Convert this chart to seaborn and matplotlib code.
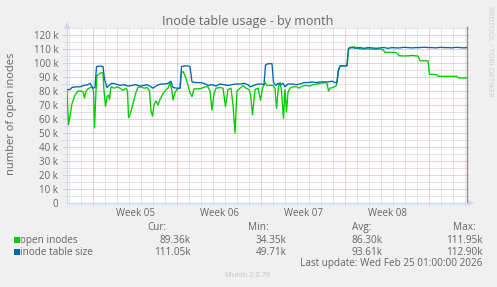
import matplotlib
matplotlib.use("Agg")
import matplotlib.pyplot as plt
import matplotlib.transforms as mtransforms
from matplotlib.patches import Rectangle
import pandas as pd
import seaborn as sns

# ---------------- data (hours since start of graph window, values in thousands) ----------------
hours_open = [0, 3, 6, 10, 16, 22, 28, 32, 35, 38, 44, 50, 53, 55, 58, 60, 64, 68, 72, 74, 77, 80, 83, 85,
              88, 94, 100, 106, 112, 118, 121, 123, 126, 130, 134, 138, 142, 148, 154, 160, 165, 168, 171,
              174, 178, 182, 186, 192, 198, 202, 206, 210, 212, 216, 220, 224, 226, 229, 232, 236, 242, 246,
              250, 254, 262, 270, 276, 282, 286, 290, 294, 298, 306, 312, 317, 322, 328, 332, 336, 340, 346,
              352, 358, 364, 367, 371, 376, 382, 387, 391, 396, 400, 406, 412, 416, 419, 423, 426, 429, 433,
              436, 439, 442, 446, 452, 460, 464, 470, 478, 486, 492, 500, 508, 516, 520, 523, 526, 532, 539,
              542, 546, 554, 560, 563, 566, 574, 580, 586, 596, 606, 616, 626, 632, 636, 646, 656, 660, 664,
              676, 686, 690, 694, 702, 706, 714, 722, 725, 732, 740, 742, 756, 766, 780, 783, 790, 800]
open_inodes = [80, 56, 62, 71, 77, 80, 80, 79.5, 75, 80, 82, 83, 80, 53.6, 80, 91, 92, 93, 93, 80, 69, 76,
               77, 74, 83, 82, 83, 82, 80.5, 82, 80, 61, 63, 68, 74, 79, 82.5, 83, 82, 82.5, 80, 66, 62,
               70, 73, 70, 74, 78, 81, 82, 86, 80, 73.6, 79, 81, 82, 82, 93, 94, 91, 84, 78.6, 76, 81.5,
               81.5, 82, 83, 83, 80, 66.4, 78, 82, 82.5, 82, 68.8, 81, 82, 70, 50, 80, 82, 84, 82, 81, 78,
               62.9, 81, 82, 73.6, 82, 86, 84, 84, 84, 82, 67.6, 83, 86, 80, 60.5, 81, 65, 79, 82, 83, 83,
               82, 83.5, 84, 83.5, 84.5, 85, 85.5, 86, 85.5, 80, 82, 82.5, 84, 93.8, 97.9, 97.9, 98, 109.3,
               111.2, 111.5, 111, 110, 110, 110, 109.8, 110, 109.5, 107.6, 107.6, 107.6, 107, 105.2, 105,
               105.2, 105.5, 105.2, 105, 101.6, 101.6, 101.5, 91.9, 91.9, 91.5, 90.5, 90.5, 90.5, 90.5,
               89.4, 89.3, 89.36]

hours_size = [0, 6, 10, 18, 26, 34, 42, 46, 52, 56, 59, 66, 72, 75, 80, 84, 90, 98, 106, 114, 122, 130, 138,
              146, 154, 160, 166, 172, 180, 188, 196, 202, 208, 212, 220, 226, 229, 236, 242, 246, 250, 258,
              266, 274, 282, 290, 298, 306, 314, 322, 330, 338, 346, 354, 362, 366, 374, 382, 390, 394, 397,
              402, 410, 413, 418, 422, 428, 432, 436, 442, 450, 458, 466, 474, 482, 490, 498, 506, 514, 522,
              530, 536, 540, 543, 546, 554, 560, 563, 570, 578, 586, 594, 602, 610, 618, 626, 634, 642, 650,
              658, 666, 674, 682, 690, 698, 706, 714, 722, 730, 738, 746, 754, 762, 770, 778, 786, 794, 800]
table_size = [81, 81, 82.5, 83, 83, 84, 84.5, 85.5, 82, 82.5, 97.4, 97.8, 97.4, 88.5, 82.5, 84, 85.5, 85, 84,
              84.5, 83.5, 84, 84.5, 83.5, 84, 84.5, 83.5, 82, 84, 85, 85, 85.5, 87, 82.5, 82, 82, 97.4,
              97.9, 97.9, 97.4, 86.5, 86, 86, 85.5, 84, 84.5, 83.5, 85, 84.5, 84, 84.5, 85, 85, 85.5, 84.5,
              83, 84, 85, 85, 84.5, 98.5, 99.5, 99.5, 86, 84, 85.5, 84.5, 85.5, 83, 85, 85, 84.5, 85, 86,
              86, 86.5, 86, 86.5, 86.5, 86.5, 87, 86, 86, 94.5, 97.9, 97.9, 98, 110.5, 111, 110.5, 111,
              110.5, 111, 110.8, 110.5, 110.8, 111, 110.5, 111, 110.8, 110.8, 111.2, 111, 110.8, 111, 111,
              111.3, 111, 111, 110.8, 111.2, 111, 111, 110.8, 111.2, 111, 110.8, 111.05]

series_names = ["open inodes", "inode table size"]
series_colors = ["#00CC00", "#0066B3"]
week_labels = ["Week 05", "Week 06", "Week 07", "Week 08"]
stat_headers = ["Cur:", "Min:", "Avg:", "Max:"]
stat_values = [["89.36k", "34.35k", "86.30k", "111.95k"],
               ["111.05k", "49.71k", "93.61k", "112.90k"]]
title = "Inode table usage - by month"
ylabel = "number of open inodes"
last_update = "Last update: Wed Feb 25 01:00:00 2026"
watermark = "Munin 2.0.76"
side_text = "RRDTOOL / TOBI OETIKER"

# ---------------- style ----------------
sns.set_style("white")
plt.rcParams['font.family'] = ['Open Sans', 'DejaVu Sans']
FONT = "#666666"
AXIS = "#CFD6F8"
MGRID = "#E8A0A0"
GRID = "#CCCCCC"

W, H = 497, 287
fig = plt.figure(figsize=(W / 100, H / 100), dpi=100, facecolor="#F0F0F0")


def fx(px):
    return px / W


def fy(py):
    return 1 - py / H


left, right, top, bottom = 67, 467, 27.5, 203
ax = fig.add_axes([fx(left), fy(bottom), (right - left) / W, (bottom - top) / H])
ax.set_facecolor("white")

df = pd.concat([
    pd.DataFrame({"hours": hours_open, "value": open_inodes, "series": series_names[0]}),
    pd.DataFrame({"hours": hours_size, "value": table_size, "series": series_names[1]}),
])

x_end = 800
ax.set_xlim(0, x_end)
ax.set_ylim(0, (bottom - top) / 1.4)

# grid (dotted, extending slightly beyond the canvas like rrdtool)
dots = (0, (1, 1))
first_day, first_week = 4, 52
for h in range(first_day, x_end, 24):
    is_major = (h - first_week) % 168 == 0
    ax.axvline(h, ymin=-0.012, ymax=1, color=MGRID if is_major else GRID, lw=0.72,
               ls=dots, clip_on=False, zorder=1 if is_major else 0.5)
for v in range(5, 126, 5):
    is_major = v % 10 == 0
    ax.axhline(v, xmin=-0.009, xmax=1.006, color=MGRID if is_major else GRID, lw=0.72,
               ls=dots, clip_on=False, zorder=1 if is_major else 0.5)

sns.lineplot(data=df, x="hours", y="value", hue="series", hue_order=series_names,
             palette=dict(zip(series_names, series_colors)), linewidth=0.95,
             estimator=None, legend=False, ax=ax, zorder=3)

# axes / spines
ax.spines["top"].set_visible(False)
ax.spines["left"].set_color(AXIS)
ax.spines["bottom"].set_color(AXIS)
ax.spines["right"].set_color("#8A8A8A")
for s in ["left", "bottom", "right"]:
    ax.spines[s].set_linewidth(0.9)
ax.plot([0], [1.012], marker="^", ms=4.5, color=AXIS, transform=ax.transAxes, clip_on=False,
        markeredgewidth=0)
ax.plot([1.011], [0], marker=">", ms=4.5, color=AXIS, transform=ax.transAxes, clip_on=False,
        markeredgewidth=0)

ax.set_yticks(range(0, 121, 10))
ax.set_yticklabels(["0" if v == 0 else f"{v} k" for v in range(0, 121, 10)])
ax.tick_params(axis="y", length=0, pad=6.3, labelsize=7, labelcolor=FONT)
week_centers = [first_week + 84 + 168 * i for i in range(len(week_labels))]
ax.set_xticks([])
ax.set_xlabel("")
ax.set_ylabel("")
btrans = mtransforms.blended_transform_factory(ax.transData, fig.transFigure)
for xc, lab in zip(week_centers, week_labels):
    ax.text(xc, fy(216.5), lab, transform=btrans, ha="center", va="baseline",
            fontsize=7, color=FONT)

# titles
fig.text(fx(248), fy(25), title, ha="center", va="baseline", fontsize=9, color=FONT)
fig.text(fx(11.5), fy(114), ylabel, rotation=90, ha="center", va="center", fontsize=8, color=FONT)
fig.text(fx(490), fy(51), side_text, rotation=270, ha="center", va="center", fontsize=5.5,
         color="#CCCCCC")

# legend block
header_right = [166, 269, 371, 476]
value_right = [191, 286.7, 383, 482.7]
for xr, hd in zip(header_right, stat_headers):
    fig.text(fx(xr), fy(230.3), hd, ha="right", va="baseline", fontsize=7.2, color=FONT)
row_base = [242.7, 255]
for i, (name, col) in enumerate(zip(series_names, series_colors)):
    yb = row_base[i]
    fig.patches.append(Rectangle((fx(14), fy(yb)), 6 / W, 6 / H, transform=fig.transFigure,
                                 facecolor=col, edgecolor="none"))
    fig.text(fx(20.5), fy(yb), name, ha="left", va="baseline", fontsize=7.2, color=FONT)
    for xr, val in zip(value_right, stat_values[i]):
        fig.text(fx(xr), fy(yb), val, ha="right", va="baseline", fontsize=7.2, color=FONT)
fig.text(fx(482.3), fy(266), last_update, ha="right", va="baseline", fontsize=7.2, color=FONT)
fig.text(fx(248), fy(277), watermark, ha="center", va="baseline", fontsize=5.3, color="#C4C4C4")

fig.savefig("out.png", dpi=100, facecolor=fig.get_facecolor())
